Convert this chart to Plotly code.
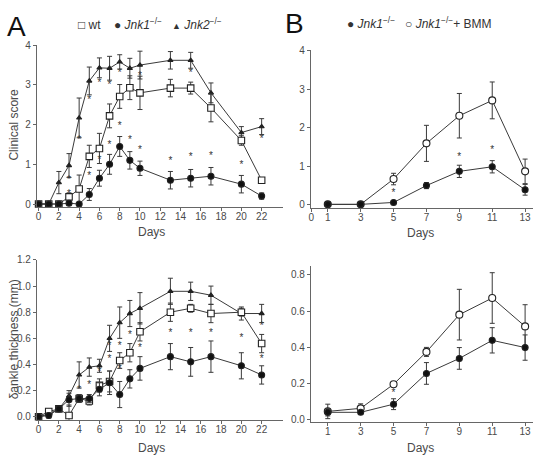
import plotly.graph_objects as go

W, H = 534, 461

# ---------- Panel A data ----------
days_a = [0, 1, 2, 3, 4, 5, 6, 7, 8, 9, 10, 13, 15, 17, 20, 22]

score_wt = [0, 0, 0, 0.18, 0.38, 1.2, 1.4, 2.22, 2.71, 2.93, 2.8, 2.92, 2.92, 2.42, 1.6, 0.6]
score_wt_err = [0, 0, 0, 0.1, 0.35, 0.28, 0.38, 0.3, 0.3, 0.3, 0.42, 0.22, 0.15, 0.35, 0.12, 0.05]
score_jnk1 = [0, 0, 0, 0.02, 0, 0.24, 0.65, 1.0, 1.45, 1.1, 0.9, 0.6, 0.65, 0.7, 0.5, 0.2]
score_jnk1_err = [0, 0, 0, 0.03, 0, 0.15, 0.2, 0.25, 0.25, 0.22, 0.18, 0.22, 0.22, 0.22, 0.22, 0.08]
score_jnk2 = [0, 0, 0.54, 0.97, 2.17, 3.1, 3.43, 3.42, 3.58, 3.42, 3.5, 3.62, 3.62, 2.8, 1.8, 1.95]
score_jnk2_err = [0, 0, 0.28, 0.3, 0.5, 0.35, 0.25, 0.3, 0.18, 0.25, 0.35, 0.22, 0.2, 0.25, 0.15, 0.2]

ankle_wt = [0, 0.04, 0.06, 0.01, 0.14, 0.12, 0.24, 0.27, 0.43, 0.49, 0.65, 0.8, 0.83, 0.79, 0.8, 0.56]
ankle_wt_err = [0, 0.02, 0.02, 0.08, 0.03, 0.03, 0.05, 0.08, 0.06, 0.07, 0.07, 0.07, 0.03, 0.07, 0.03, 0.07]
ankle_jnk1 = [0, 0.01, 0.06, 0.13, 0.14, 0.14, 0.21, 0.26, 0.17, 0.29, 0.37, 0.46, 0.42, 0.46, 0.39, 0.32]
ankle_jnk1_err = [0, 0.02, 0.02, 0.05, 0.03, 0.03, 0.05, 0.09, 0.1, 0.07, 0.09, 0.1, 0.11, 0.12, 0.1, 0.07]
ankle_jnk2 = [0, 0.02, 0.06, 0.16, 0.32, 0.38, 0.39, 0.6, 0.72, 0.79, 0.83, 0.96, 0.96, 0.93, 0.79, 0.79]
ankle_jnk2_err = [0, 0.02, 0.02, 0.04, 0.1, 0.07, 0.05, 0.1, 0.12, 0.1, 0.12, 0.1, 0.07, 0.07, 0.05, 0.07]

# significance asterisks (panel A)
star_a_top_x = [3, 4, 5, 6, 7, 8, 10, 15, 3, 5, 6, 7, 8, 9, 10, 13, 15, 17, 20, 22]
star_a_top_y = [0.6, 1.6, 2.62, 3.03, 2.98, 3.3, 3.22, 3.3, 0.25, 0.7, 1.1, 1.48, 1.95, 1.6, 1.36, 1.08, 1.16, 1.2, 0.96, 1.63]
star_a_bot_x = [5, 7, 8, 9, 10, 13, 15, 17, 20, 22, 22, 4, 6, 7, 8]
star_a_bot_y = [0.24, 0.44, 0.54, 0.62, 0.52, 0.64, 0.64, 0.64, 0.6, 0.69, 0.44, 0.2, 0.34, 0.54, 0.36]

# ---------- Panel B data ----------
days_b = [1, 3, 5, 7, 9, 11, 13]

scoreb_jnk1 = [0, 0, 0.05, 0.49, 0.86, 0.98, 0.38]
scoreb_jnk1_err = [0, 0, 0.04, 0.08, 0.16, 0.16, 0.14]
scoreb_bmm = [0, 0, 0.66, 1.59, 2.31, 2.71, 0.86]
scoreb_bmm_err = [0, 0, 0.15, 0.47, 0.58, 0.48, 0.32]

ankleb_jnk1 = [0.04, 0.04, 0.085, 0.255, 0.338, 0.438, 0.398]
ankleb_jnk1_err = [0.02, 0.01, 0.03, 0.06, 0.06, 0.07, 0.07]
ankleb_bmm = [0.045, 0.062, 0.195, 0.374, 0.58, 0.672, 0.515]
ankleb_bmm_err = [0.04, 0.025, 0.01, 0.025, 0.14, 0.14, 0.12]

star_b_top_x = [5, 9, 11]
star_b_top_y = [0.28, 1.22, 1.4]
star_b_bot_x = [5]
star_b_bot_y = [0.145]

xticks_a = [0, 2, 4, 6, 8, 10, 12, 14, 16, 18, 20, 22]
xticks_b_top = [0, 1, 3, 5, 7, 9, 11, 13]
xticks_b_bot = [1, 3, 5, 7, 9, 11, 13]

# ---------- styling ----------
LINE = '#3a3a3a'
AX = '#666666'
TXT = '#4a4a4a'
FONT = 'Liberation Sans, Arial, sans-serif'


def px_x(a, b):
    return [a / W, b / W]


def px_y(top, bottom):
    return [1 - bottom / H, 1 - top / H]


fig = go.Figure()


def series(x, y, err, xa, ya, symbol, size, fill):
    fig.add_trace(go.Scatter(
        x=x, y=y, xaxis=xa, yaxis=ya, mode='lines+markers',
        line=dict(color=LINE, width=1),
        marker=dict(symbol=symbol, size=size, color=fill,
                    line=dict(color='#222222', width=1.1)),
        error_y=dict(type='data', array=err, visible=True, color=LINE,
                     thickness=1, width=2.5),
        showlegend=False, cliponaxis=False))


def stars(x, y, xa, ya):
    fig.add_trace(go.Scatter(
        x=x, y=y, xaxis=xa, yaxis=ya, mode='text', text=['*'] * len(x),
        textfont=dict(family=FONT, size=10, color='#333333'),
        textposition='middle center', showlegend=False, hoverinfo='skip'))


# Panel A top
series(days_a, score_jnk2, score_jnk2_err, 'x', 'y', 'triangle-up', 4.5, '#222222')
series(days_a, score_wt, score_wt_err, 'x', 'y', 'square', 6.5, 'white')
series(days_a, score_jnk1, score_jnk1_err, 'x', 'y', 'circle', 6, '#111111')
stars(star_a_top_x, star_a_top_y, 'x', 'y')

# Panel A bottom
series(days_a, ankle_jnk2, ankle_jnk2_err, 'x2', 'y2', 'triangle-up', 4.5, '#222222')
series(days_a, ankle_wt, ankle_wt_err, 'x2', 'y2', 'square', 6.5, 'white')
series(days_a, ankle_jnk1, ankle_jnk1_err, 'x2', 'y2', 'circle', 6, '#111111')
stars(star_a_bot_x, star_a_bot_y, 'x2', 'y2')

# Panel B top
series(days_b, scoreb_bmm, scoreb_bmm_err, 'x3', 'y3', 'circle', 7, 'white')
series(days_b, scoreb_jnk1, scoreb_jnk1_err, 'x3', 'y3', 'circle', 6, '#111111')
stars(star_b_top_x, star_b_top_y, 'x3', 'y3')

# Panel B bottom
series(days_b, ankleb_bmm, ankleb_bmm_err, 'x4', 'y4', 'circle', 7, 'white')
series(days_b, ankleb_jnk1, ankleb_jnk1_err, 'x4', 'y4', 'circle', 6, '#111111')
stars(star_b_bot_x, star_b_bot_y, 'x4', 'y4')

axcommon = dict(showline=True, linecolor=AX, linewidth=1, ticks='outside',
                ticklen=3, tickcolor=AX, tickwidth=1, showgrid=False,
                zeroline=False, tickfont=dict(family=FONT, size=10, color=TXT))
xcommon = dict(axcommon, ticklabelstandoff=-3)

fig.update_layout(
    width=W, height=H, margin=dict(l=0, r=0, t=0, b=0),
    paper_bgcolor='white', plot_bgcolor='white',
    font=dict(family=FONT, color=TXT),
    xaxis=dict(xcommon, domain=px_x(35, 282), range=[-0.17, 24.1],
               tickvals=xticks_a, anchor='y'),
    yaxis=dict(axcommon, domain=px_y(40, 205), range=[-0.075, 4.0],
               tickvals=[0, 1, 2, 3, 4], anchor='x'),
    xaxis2=dict(xcommon, domain=px_x(35, 282), range=[-0.17, 24.1],
                tickvals=xticks_a, anchor='y2'),
    yaxis2=dict(axcommon, domain=px_y(259, 422), range=[-0.023, 1.2],
                tickvals=[0, 0.2, 0.4, 0.6, 0.8, 1.0, 1.2],
                ticktext=['0.0', '0.2', '0.4', '0.6', '0.8', '1.0', '1.2'],
                anchor='x2'),
    xaxis3=dict(xcommon, domain=px_x(310, 533), range=[-0.03, 13.48],
                tickvals=xticks_b_top, anchor='y3'),
    yaxis3=dict(axcommon, domain=px_y(45, 206), range=[-0.094, 4.02],
                tickvals=[0, 1, 2, 3, 4], anchor='x3'),
    xaxis4=dict(xcommon, domain=px_x(310, 533), range=[-0.03, 13.48],
                tickvals=xticks_b_bot, anchor='y4'),
    yaxis4=dict(axcommon, domain=px_y(265, 424), range=[-0.012, 0.85],
                tickvals=[0, 0.2, 0.4, 0.6, 0.8],
                ticktext=['0.0', '0.2', '0.4', '0.6', '0.8'], anchor='x4'),
)


def ann(text, x, y, size, **kw):
    color = kw.pop('color', TXT)
    kw.setdefault('xanchor', 'center')
    kw.setdefault('yanchor', 'middle')
    fig.add_annotation(text=text, x=x / W, y=1 - y / H, xref='paper', yref='paper',
                       showarrow=False, font=dict(family=FONT, size=size, color=color),
                       **kw)


# Panel letters
ann('A', 15, 21, 28, color='#111111')
ann('B', 294, 18, 28, color='#111111')

# Legends
sup = '<sup>−/−</sup>'
ann('□ wt    ● <i>Jnk1</i>' + sup + '   <span style="font-size:9px">▲</span> <i>Jnk2</i>' + sup,
    74, 18, 12, xanchor='left', color='#333333')
ann('● <i>Jnk1</i>' + sup + '   ○ <i>Jnk1</i>' + sup + '+ BMM',
    344, 17, 12, xanchor='left', color='#333333')

# Axis titles
ann('Days', 150, 230, 12)
ann('Days', 150, 451, 12)
ann('Days', 420, 232, 12)
ann('Days', 420, 451, 12)
ann('Clinical score', 12, 121, 12, textangle=-90)
ann('δankle thickness (mm)', 12, 340, 12, textangle=-90)

fig.write_html('out.html', config={'displayModeBar': False},
               post_script="document.body.style.margin='0';document.body.style.overflow='hidden';")
